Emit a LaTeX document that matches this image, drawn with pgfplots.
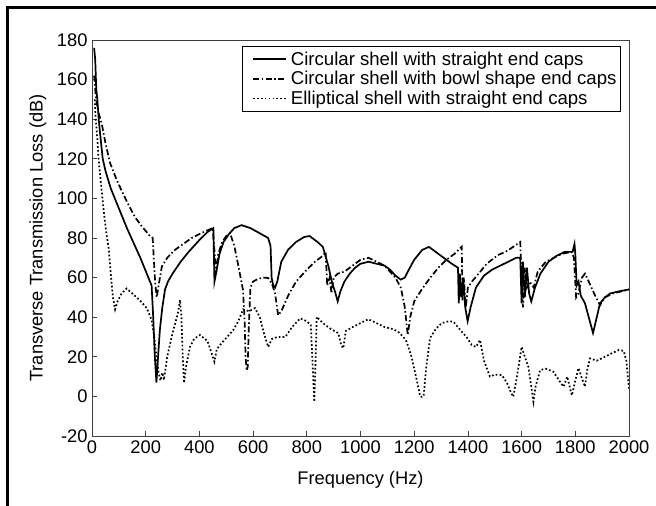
\documentclass[border=0pt]{standalone}
\usepackage{fontspec}
\setmainfont{Liberation Sans}
\usepackage{pgfplots}
\pgfplotsset{compat=1.18}
\begin{document}
\begin{tikzpicture}
\useasboundingbox (0,0) rectangle (656bp,-506bp);
\fill[white] (0,0) rectangle (656bp,-506bp);
\draw[line width=3bp] (7.5bp,-506bp) -- (7.5bp,-7.5bp) -- (656bp,-7.5bp);
\begin{axis}[
  at={(92bp,-436bp)}, anchor=south west,
  width=537bp, height=396bp, scale only axis,
  xmin=0, xmax=2000, ymin=-20, ymax=180,
  xtick={0,200,...,2000}, ytick={-20,0,...,180},
  tick align=inside, xtick pos=bottom, ytick pos=left,
  major tick length=5bp,
  axis line style={black!75, line width=0.8bp},
  every tick/.style={black!75, line width=0.8bp},
  /pgf/number format/assume math mode=true,
  /pgf/number format/1000 sep={},
  font=\fontsize{18.3bp}{21bp}\selectfont,
  tick label style={font=\fontsize{18.3bp}{21bp}\selectfont},
  xticklabel style={yshift=-1bp},
  yticklabel style={xshift=-1bp},
  xlabel={Frequency (Hz)},
  ylabel={Transverse Transmission Loss (dB)},
  x label style={at={(axis description cs:0.5,-0.111)}, anchor=center},
  y label style={at={(axis description cs:-0.1006,0.5)}, anchor=center},
  legend cell align=left,
  legend image code/.code={\draw[#1] (8bp,0bp) -- (41bp,0bp); \path (0bp,0bp) (43bp,0bp);},
  legend style={at={(0.985,0.985)}, anchor=north east, draw=black, line width=0.8bp,
    font=\fontsize{18.6bp}{21bp}\selectfont, inner xsep=2bp, inner ysep=3.5bp, row sep=0.6bp,
    /tikz/every odd column/.append style={column sep=0bp}},
]
\addplot[black, line width=1.7bp, solid] coordinates {
(8,176) (12,170) (16,155) (20,150) (25,140) (30,133) (40,120) (50,114) (70,105) (100,95) (130,85) (150,79) (180,70) (210,60) (222,56) (228,40) (234,20) (240,7) (246,20) (253,34) (262,45) (272,54) (283,58) (300,62) (330,68) (360,73) (400,79) (430,83) (452,85) (456,58) (462,62) (475,72) (490,78) (510,82) (530,85) (557,86.5) (590,85) (630,82) (656,80) (665,76) (669,60) (675,56) (682,55) (690,58) (705,68) (730,74) (760,78) (790,80.5) (810,81) (840,78) (860,75.5) (880,66) (895,57) (905,53) (915,48) (925,53) (940,58) (960,62) (980,65) (1000,67) (1030,68) (1060,67) (1090,66) (1110,64) (1130,61) (1150,59) (1165,60) (1180,64) (1200,69) (1230,74) (1255,75.5) (1280,73) (1310,70) (1340,67) (1363,65) (1366,47) (1370,62) (1375,50) (1382,60) (1390,45) (1399,38) (1410,45) (1430,55) (1460,61) (1490,64) (1520,66) (1550,68) (1580,70) (1595,70) (1600,47) (1605,68) (1612,50) (1620,65) (1628,52) (1636,48) (1650,55) (1670,62) (1700,68) (1730,71) (1760,73) (1790,73) (1797,77) (1800,72) (1805,56) (1812,58) (1820,51) (1836,47) (1850,40) (1866,32) (1880,40) (1892,47) (1910,50) (1930,52) (1960,53) (2000,54)
};
\addlegendentry{Circular shell with straight end caps}
\addplot[black, line width=1.7bp, dash pattern={on 6bp off 2.5bp on 1.5bp off 2.5bp}] coordinates {
(8,162) (15,150) (25,143) (36,138) (50,128) (67,118) (90,110) (110,104) (135,97) (160,90.6) (185,86) (216,81) (226,80) (230,70) (235,58) (241,50) (248,56) (260,65.5) (280,70) (309,74) (340,77) (371,80) (400,82) (432,84) (450,85) (458,70) (462,62) (470,72) (485,78) (500,81) (514,82.5) (530,76) (545,66) (562,54) (568,40) (572,20) (576,13) (580,15) (584,35) (590,55) (600,58) (620,59.5) (640,60) (656,59.8) (670,57) (682,52) (693,41) (705,43) (731,51) (760,58) (800,64) (830,68) (860,71) (870,73) (876,56) (885,60) (892,52) (900,60) (915,62) (940,63) (970,66) (1000,69) (1030,70) (1060,68) (1090,66) (1110,63) (1130,60) (1150,55) (1165,45) (1176,31) (1185,40) (1200,48) (1228,54) (1260,60) (1290,65) (1320,69) (1350,72) (1377,75.6) (1380,48) (1385,60) (1392,45) (1400,55) (1415,58) (1440,62) (1470,67) (1512,71.4) (1540,73) (1563,75) (1595,78) (1600,60) (1605,45) (1612,65) (1620,55) (1630,58) (1645,55) (1660,63) (1690,68) (1720,70) (1750,72) (1786,73) (1795,70) (1803,50) (1811,52) (1825,60) (1836,62) (1850,58) (1870,52) (1892,46) (1910,50) (1940,52) (1970,53) (2000,54)
};
\addlegendentry{Circular shell with bowl shape end caps}
\addplot[black, line width=1.7bp, dash pattern={on 1.7bp off 2.2bp}] coordinates {
(10,150) (14,140) (20,130) (24,121) (30,112) (36,104) (45,92) (55,81) (62,75) (70,62) (78,50) (86,44) (95,48) (110,52) (129,54.5) (150,52) (175,49) (204,44.6) (222,38.6) (232,30) (240,20) (248,12) (255,8) (262,12) (268,8.3) (280,20) (300,32) (320,42) (328,48.7) (333,40) (338,20) (343,6.8) (350,15) (365,25) (380,29) (402,31) (430,28) (445,22) (456,17.5) (465,24) (490,28) (526,33.5) (545,38) (563,44) (585,43) (607,44.6) (625,40) (640,32) (656,25) (670,29) (690,30) (720,30) (745,35) (775,39.4) (800,38) (815,36) (822,15) (828,-2.7) (832,15) (837,40.2) (860,37) (890,34) (917,32) (928,26) (936,24.3) (945,33) (970,35) (1000,37) (1029,39) (1060,37) (1090,35) (1120,34) (1140,32.7) (1160,30) (1172,27.6) (1190,20) (1210,8) (1222,0) (1228,-0.2) (1235,0) (1245,15) (1259,29.5) (1280,34) (1302,37) (1330,38) (1346,37.7) (1377,32.7) (1395,30) (1414,26) (1430,25) (1445,28.5) (1460,18) (1482,10) (1500,11) (1526,10.8) (1545,7) (1560,2) (1569,-0.2) (1580,8) (1592,18) (1600,25) (1612,20) (1625,15) (1636,5) (1644,-2.7) (1652,5) (1669,13.3) (1690,14) (1718,12.5) (1740,8) (1756,4.9) (1770,10) (1787,0.5) (1800,8) (1812,14.3) (1825,9) (1836,4.9) (1845,14) (1855,19.2) (1880,18) (1910,20) (1940,22) (1961,23.4) (1980,23) (1990,18) (2000,4)
};
\addlegendentry{Elliptical shell with straight end caps}
\end{axis}
\end{tikzpicture}
\end{document}
